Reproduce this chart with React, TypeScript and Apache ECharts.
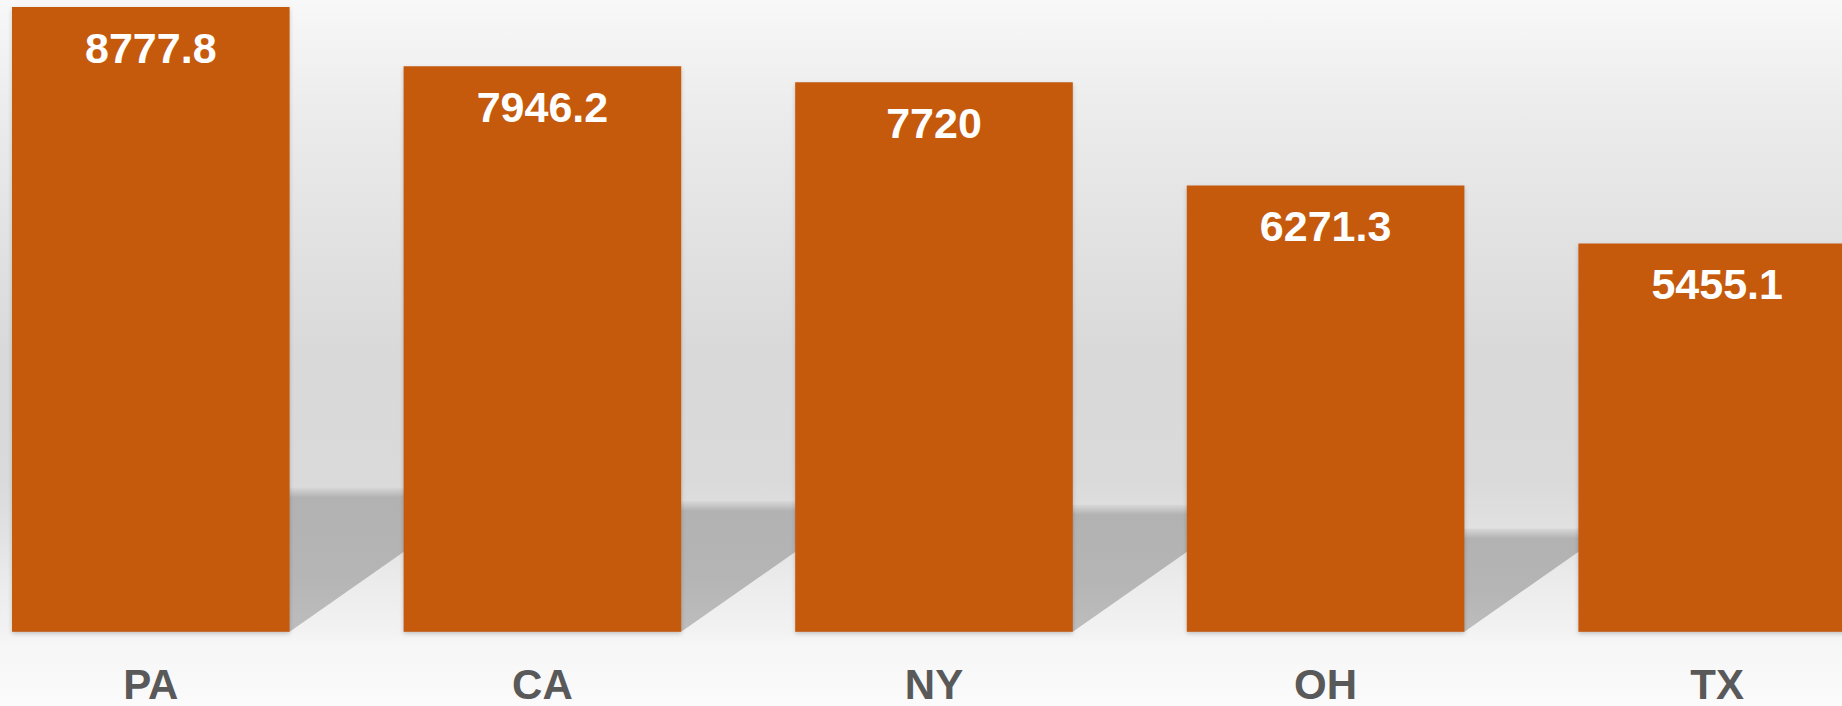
import React, { useEffect, useRef } from "react";
import * as echarts from "echarts";

const categories = ["PA", "CA", "NY", "OH", "TX"];
const values = [8777.8, 7946.2, 7720, 6271.3, 5455.1];

const BAR_RATIO = 0.709; // bar width / category band
const SHADOW_RATIO = 0.231; // shadow height / bar height
const SHADOW_SLOPE = 0.7; // rise per px of shadow edge

export default function App() {
  const ref = useRef<HTMLDivElement>(null);

  useEffect(() => {
    if (!ref.current) return;
    const chart = echarts.init(ref.current, undefined, { renderer: "svg" });
    const option: any = {
      animation: false,
      backgroundColor: {
        type: "linear",
        x: 0,
        y: 0,
        x2: 0,
        y2: 1,
        colorStops: [
          { offset: 0, color: "#f8f8f8" },
          { offset: 0.17, color: "#ebebeb" },
          { offset: 0.5, color: "#d9d9d9" },
          { offset: 0.68, color: "#dadada" },
          { offset: 0.75, color: "#e1e1e1" },
          { offset: 0.82, color: "#ebebeb" },
          { offset: 0.893, color: "#f2f2f2" },
          { offset: 0.91, color: "#f6f6f6" },
          { offset: 1, color: "#fbfbfb" },
        ],
      },
      grid: { left: 0, right: 0, top: 7, bottom: 74.3, containLabel: false },
      xAxis: {
        type: "category",
        data: categories,
        axisLine: { show: false },
        axisTick: { show: false },
        axisLabel: {
          color: "#595959",
          fontSize: 42,
          lineHeight: 30,
          fontWeight: "bold",
          fontFamily: "Liberation Sans, Arial, sans-serif",
          margin: 38,
        },
      },
      yAxis: {
        type: "value",
        min: 0,
        max: (v: any) => v.max,
        show: false,
        splitLine: { show: false },
      },
      series: [
        {
          type: "custom",
          z: 1,
          silent: true,
          clip: false,
          data: categories.map((c, i) => [i, values[i]]),
          renderItem: (params: any, api: any) => {
            const idx = api.value(0);
            const v = api.value(1);
            const base = api.coord([idx, 0]);
            const top = api.coord([idx, v]);
            const band = api.size([1, 0])[0];
            const half = (band * BAR_RATIO) / 2;
            const h = base[1] - top[1];
            const hs = h * SHADOW_RATIO;
            const dx = hs / SHADOW_SLOPE;
            const x0 = base[0] - half;
            const x1 = base[0] + half;
            const yb = base[1];
            const fade = 10 / hs;
            return {
              type: "polygon",
              shape: {
                points: [
                  [x0, yb],
                  [x1, yb],
                  [x1 + dx, yb - hs],
                  [x0 + dx, yb - hs],
                ],
              },
              style: {
                fill: {
                  type: "linear",
                  x: 0,
                  y: 0,
                  x2: 0,
                  y2: 1,
                  colorStops: [
                    { offset: 0, color: "#d8d8d8" },
                    { offset: fade, color: "#b2b2b2" },
                    { offset: 0.6, color: "#b5b5b5" },
                    { offset: 1, color: "#bdbdbd" },
                  ],
                },
              },
            };
          },
        },
        {
          type: "bar",
          z: 2,
          data: values,
          barCategoryGap: "29.1%",
          itemStyle: {
            color: "#c55a11",
            shadowBlur: 4,
            shadowOffsetY: 2,
            shadowColor: "rgba(0,0,0,0.2)",
          },
          label: {
            show: true,
            position: "insideTop",
            distance: 19,
            color: "#ffffff",
            fontSize: 43,
            fontWeight: "bold",
            fontFamily: "Liberation Sans, Arial, sans-serif",
          },
        },
      ],
    };
    chart.setOption(option);
    return () => chart.dispose();
  }, []);

  return (
    <div
      style={{
        position: "fixed",
        left: 0,
        top: 0,
        width: 1842,
        height: 706,
        overflow: "hidden",
      }}
    >
      <div
        ref={ref}
        style={{ position: "absolute", left: -45.25, top: 0, width: 1957.5, height: 706 }}
      />
    </div>
  );
}
